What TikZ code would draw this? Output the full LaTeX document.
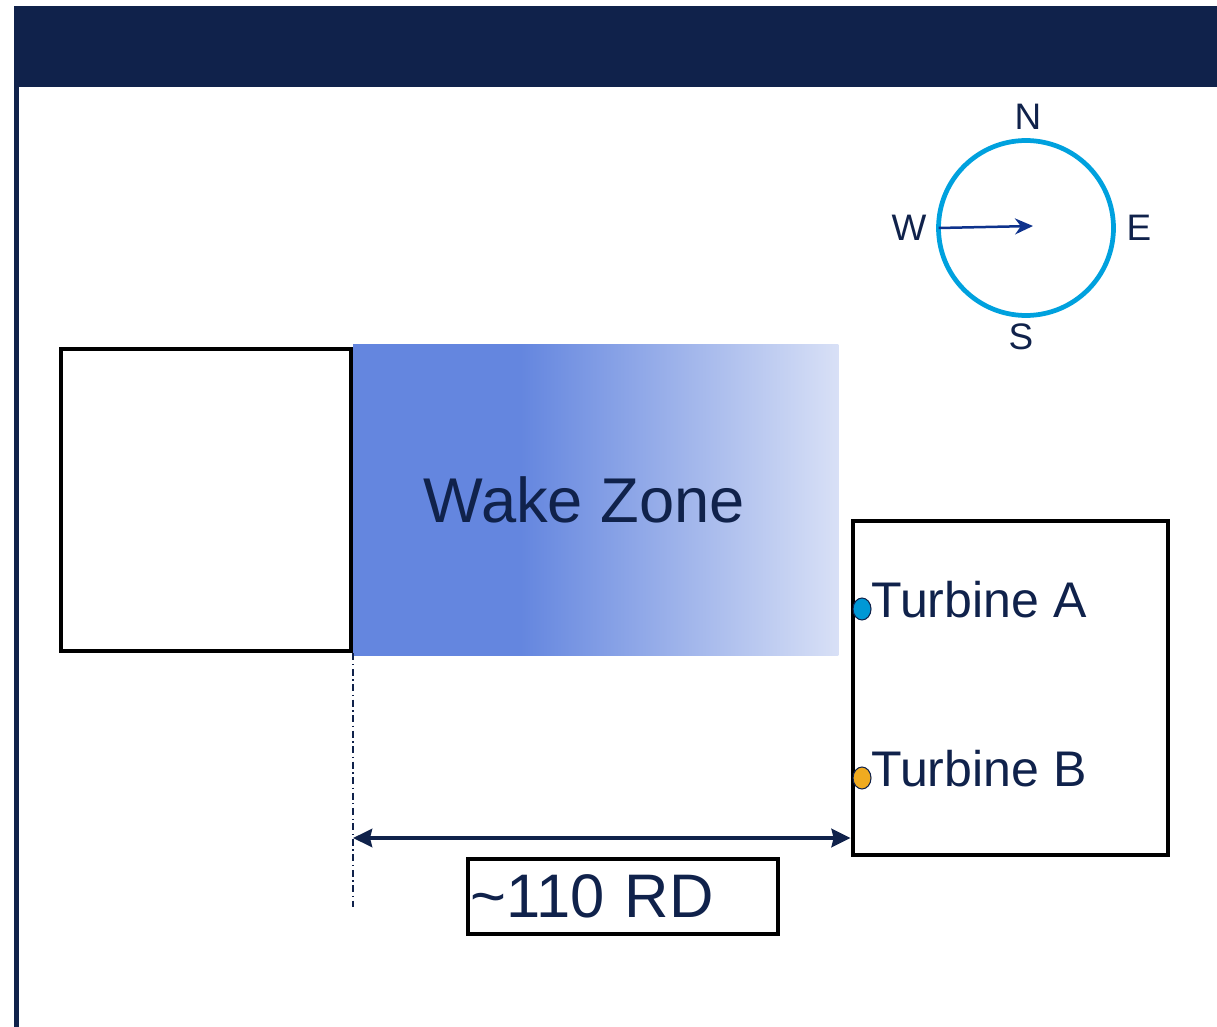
\documentclass[tikz,border=0pt]{standalone}
\usepackage{fontspec}
\setmainfont{Liberation Sans}
\usetikzlibrary{arrows.meta,positioning,shapes.geometric}
\definecolor{hdnavy}{RGB}{16,34,75}
\definecolor{wakeblue}{RGB}{100,134,223}
\definecolor{wakepale}{RGB}{216,224,246}
\definecolor{rosecyan}{RGB}{0,161,222}
\definecolor{winddark}{RGB}{14,50,140}
\definecolor{tbblue}{RGB}{0,152,214}
\definecolor{tborange}{RGB}{240,171,32}

\begin{document}
\begin{tikzpicture}[
  x=0.02cm, y=-0.02cm,
  site/.style={draw=black, line width=0.095cm, inner sep=0pt},
  zone/.style={fill=wakeblue, minimum width=9.7cm, minimum height=6.24cm, inner sep=0pt, outer sep=0pt},
  bigtext/.style={text=hdnavy, font=\fontsize{36}{43}\selectfont},
  turbine/.style={ellipse, draw=hdnavy, line width=0.6pt, minimum width=0.36cm, minimum height=0.44cm, inner sep=0pt},
  tlabel/.style={anchor=base west, inner sep=0pt, text=hdnavy, font=\fontsize{28.5}{34}\selectfont},
  tag/.style={draw=black, line width=0.095cm, text width=6.1cm, inner xsep=0.05cm, minimum height=1.5cm, align=left, text=hdnavy, font=\fontsize{35}{42}\selectfont},
  rose/.style={circle, draw=rosecyan, line width=0.095cm, minimum size=3.5cm, inner sep=0pt, outer sep=0pt},
  cardinal/.style={text=hdnavy, inner sep=0pt, font=\fontsize{21}{25}\selectfont},
  wind/.style={draw=winddark, line width=0.05cm, -{Stealth[length=0.36cm, width=0.32cm]}},
  dimline/.style={draw=hdnavy, line width=0.09cm, {Stealth[length=0.38cm, width=0.36cm, inset=0.04cm]}-{Stealth[length=0.38cm, width=0.36cm, inset=0.04cm]}},
  refline/.style={draw=hdnavy, line width=0.035cm, dash pattern=on 4pt off 2pt on 0.8pt off 2pt},
]
\useasboundingbox (0,0) rectangle (1217,1027);
% header band and side rule
\fill[hdnavy] (14,6) rectangle (1217,87);
\fill[hdnavy] (14,87) rectangle (19,1027);

% wind farms and wake
\node[site, minimum width=5.8cm, minimum height=6.04cm] (upwind) at (206,500) {};
\node[zone, right=0pt of upwind] (wake) {};
\shade[left color=wakeblue, right color=wakepale] ([xshift=3.34cm]wake.south west) rectangle (wake.north east);
\node[bigtext] (wakelbl) at ([xshift=-0.23cm]wake.center) {Wake Zone};
\node[site, minimum width=6.3cm, minimum height=6.68cm] (downwind) at (1010.5,688) {};

% turbines
\node[turbine, fill=tbblue] (tA) at (862,609) {};
\node[turbine, fill=tborange] (tB) at (862,778) {};
\node[tlabel] (tAlbl) at (871,617) {Turbine A};
\node[tlabel] (tBlbl) at (871,786) {Turbine B};

% distance
\coordinate (refend) at (352,907);
\draw[refline] (upwind.south east) -- (upwind.south east |- refend);
\coordinate (dimL) at (353,838);
\draw[dimline] (dimL) -- (dimL -| downwind.west);
\node[tag] (dist) at (623,896.5) {\textasciitilde110 RD};

% compass
\node[rose] (rose) at (1026,228) {};
\node[cardinal] (north) at (1028,117) {N};
\node[cardinal] (south) at (1021,337) {S};
\node[cardinal] (west) at (909,228) {W};
\node[cardinal] (east) at (1139,228) {E};
\coordinate (windtip) at (1033,226);
\draw[wind] (rose.west) -- (windtip);
\end{tikzpicture}
\end{document}
